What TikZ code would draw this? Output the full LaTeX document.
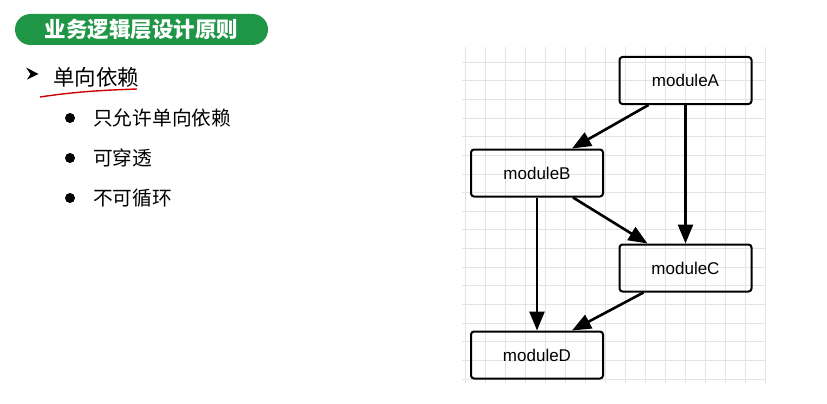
\documentclass[tikz,border=0pt]{standalone}
\usepackage{fontspec}
\usetikzlibrary{arrows.meta,positioning}
\newfontfamily\cjk{Noto Sans CJK SC}
\newfontfamily\modfont{Liberation Sans}
\definecolor{titlegreen}{RGB}{30,150,70}
\definecolor{gridgray}{RGB}{228,228,228}

\begin{document}
\begin{tikzpicture}[x=1pt,y=-1pt,
        module/.style={draw,line width=2pt,rounded corners=3pt,minimum width=132pt,minimum height=47pt,font=\modfont\fontsize{17}{17}\selectfont},
        dep/.style={line width=2.6pt,-{Triangle[length=19pt,width=15pt]}},
        item/.style={anchor=west,font=\cjk\fontsize{19.7}{19.7}\selectfont}]
        \useasboundingbox (0,0) rectangle (827,404);

        % grid behind the modules
        \foreach \x in {465,485,...,765}
            \draw[gridgray,line width=0.8pt] (\x,47) -- (\x,383);
        \foreach \k in {0,...,17}
            \draw[gridgray,line width=0.8pt] (462,62+\k*18.65) -- (765,62+\k*18.65);

        % title
        \node[fill=titlegreen,rounded corners=15.5pt,minimum width=253pt,minimum height=31pt,text=white,font=\cjk\bfseries\fontsize{21.5}{21.5}\selectfont] (title) at (141.5,29.5) {业务逻辑层设计原则};

        \node[anchor=west,font=\cjk\fontsize{21.5}{21.5}\selectfont,inner sep=0pt] (rule) at (53,77) {单向依赖};
        \fill (26,67.5) -- (38.5,74) -- (27,79.5) -- (30.5,74) -- cycle;
        \coordinate (u1) at (40,97);
        \coordinate (u2) at (137,89);
        \draw[red!80!black,line width=1.4pt] (u1) .. controls (80,91) and (110,90) .. (u2);

        \foreach \y/\t [count=\i] in {118/只允许单向依赖,158/可穿透,198/不可循环} {
            \node[circle,fill,inner sep=0pt,minimum size=10pt] (dot\i) at (70,\y) {};
            \node[item,inner sep=0pt] (item\i) at (93,\y) {\t};
        }

        % modules
        \node[module] (modA) at (685.5,80.5) {moduleA};
        \node[module] (modB) at (537,173) {moduleB};
        \node[module] (modC) at (685.5,268) {moduleC};
        \node[module] (modD) at (537,355) {moduleD};

        \draw[dep] ([xshift=-37pt]modA.south) -- ([xshift=35pt]modB.north);
        \draw[dep] (modA.south) -- (modC.north);
        \draw[dep] ([xshift=36pt]modB.south) -- ([xshift=-38pt]modC.north);
        \draw[dep] (modB.south) -- (modD.north);
        \draw[dep] ([xshift=-42pt]modC.south) -- ([xshift=35pt]modD.north);
\end{tikzpicture}
\end{document}
